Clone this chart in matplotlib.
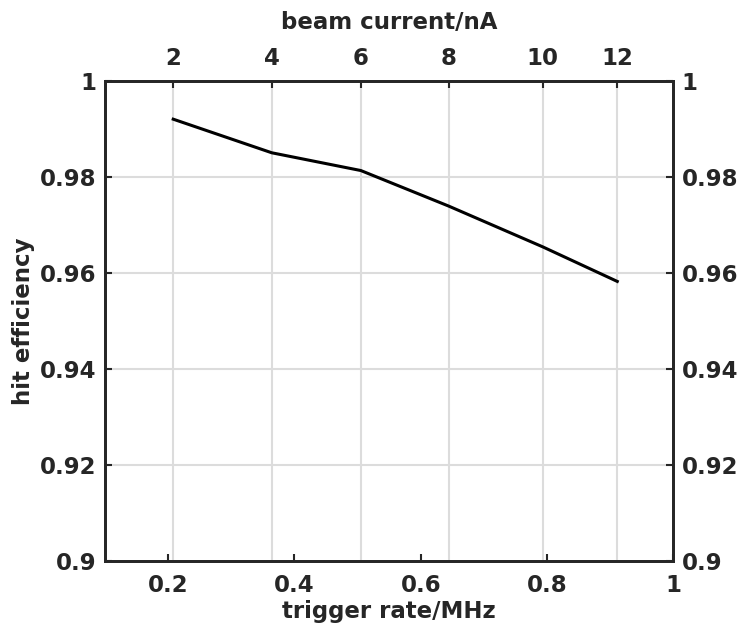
import numpy as np
import matplotlib.pyplot as plt

# trigger rate (MHz) for each beam current setting
trigger_rate = [0.208, 0.364, 0.505, 0.644, 0.793, 0.911]
beam_current = [2, 4, 6, 8, 10, 12]
hit_eff = [0.9921, 0.9851, 0.9814, 0.9740, 0.9655, 0.9583]

x_ticks = [0.2, 0.4, 0.6, 0.8, 1.0]
x_labels = ['0.2', '0.4', '0.6', '0.8', '1']
y_ticks = [0.9, 0.92, 0.94, 0.96, 0.98, 1.0]
y_labels = ['0.9', '0.92', '0.94', '0.96', '0.98', '1']

plt.rcParams['font.family'] = 'DejaVu Sans'
plt.rcParams['font.weight'] = 'bold'

fs = 16.5
dark = '#262626'

fig = plt.figure(figsize=(7.41, 6.26), dpi=100)
ax = fig.add_axes([0.1417, 0.1034, 0.7672, 0.7668])

grid_c = '#dcdcdc'
ax.vlines(trigger_rate, 0.9, 1.0, colors=grid_c, linewidth=1.5, zorder=1)
for yv in y_ticks[1:-1]:
    ax.axhline(yv, color=grid_c, linewidth=1.5, zorder=1)

ax.plot(trigger_rate, hit_eff, color='black', linewidth=2.2, zorder=3)

ax.set_xlim(0.1, 1.0)
ax.set_ylim(0.9, 1.0)
ax.set_xticks(x_ticks)
ax.set_xticklabels(x_labels)
ax.set_yticks(y_ticks)
ax.set_yticklabels(y_labels)
ax.tick_params(axis='x', direction='in', length=5, width=1.5, labelsize=fs,
               colors=dark, labelcolor=dark, pad=9)
ax.tick_params(axis='y', direction='in', length=5, width=1.5, labelsize=fs,
               colors=dark, labelcolor=dark, pad=6, right=True, labelright=True)
ax.set_xlabel('trigger rate/MHz', fontsize=fs, fontweight='bold', color=dark, labelpad=2)
ax.set_ylabel('hit efficiency', fontsize=fs, fontweight='bold', color=dark, labelpad=4)

ax2 = ax.twiny()
ax2.set_xlim(ax.get_xlim())
ax2.set_xticks(trigger_rate)
ax2.set_xticklabels([str(b) for b in beam_current])
ax2.tick_params(axis='x', direction='in', length=5, width=1.5, labelsize=fs,
                colors=dark, labelcolor=dark, pad=8)
ax2.set_xlabel('beam current/nA', fontsize=fs, fontweight='bold', color=dark, labelpad=13)

for a in (ax, ax2):
    for s in a.spines.values():
        s.set_linewidth(2)
        s.set_color(dark)

fig.savefig('out.png', dpi=100)
